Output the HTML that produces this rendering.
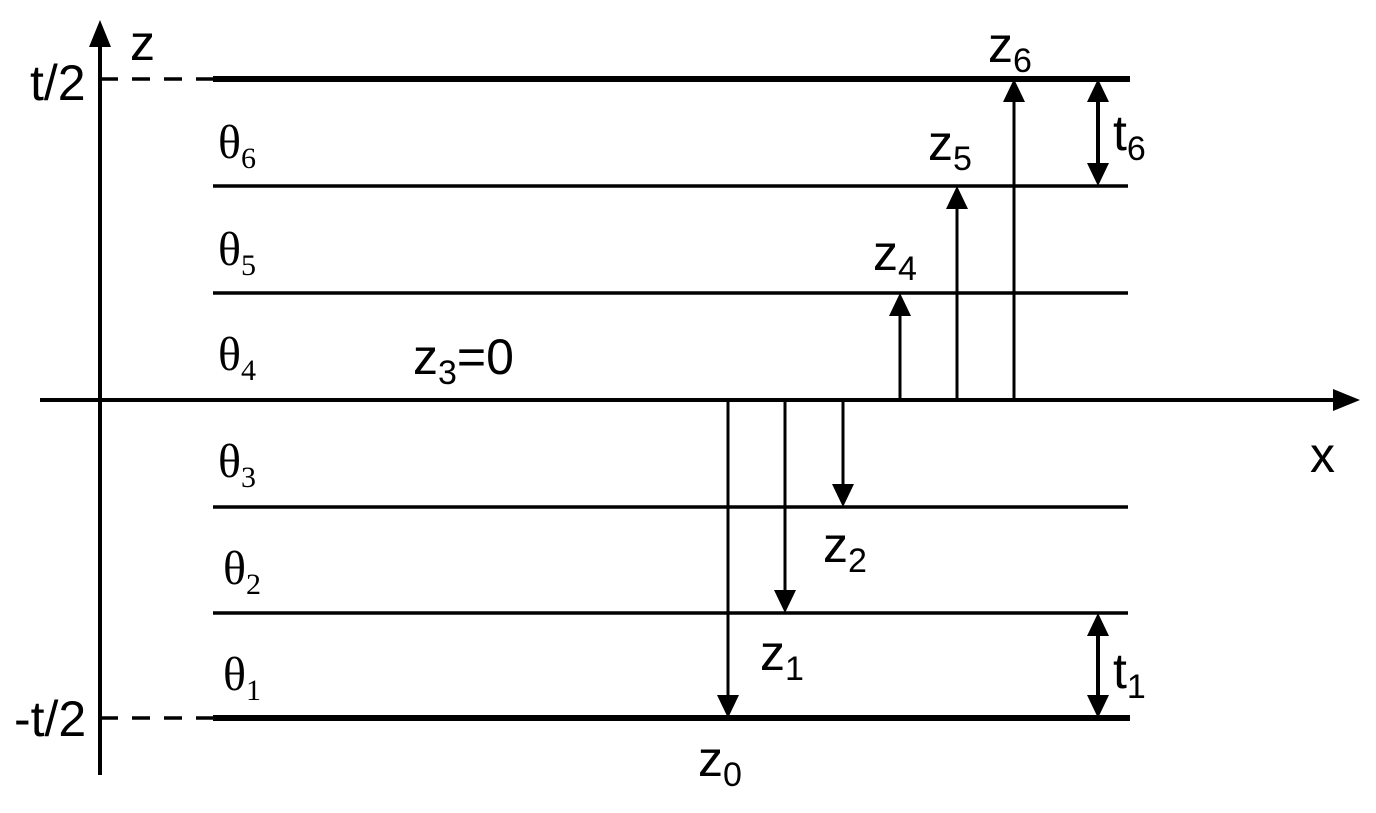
<!DOCTYPE html>
<html><head><meta charset="utf-8"><style>html,body{margin:0;padding:0;background:#fff}</style></head>
<body>
<svg width="1376" height="808" viewBox="0 0 1376 808" xmlns="http://www.w3.org/2000/svg">
<g stroke="#000" fill="none">
<line x1="100" y1="40" x2="100" y2="775" stroke-width="4"/>
<line x1="40" y1="400" x2="1340" y2="400" stroke-width="4"/>
<line x1="213" y1="79" x2="1130" y2="79" stroke-width="6"/>
<line x1="213" y1="718" x2="1130" y2="718" stroke-width="6"/>
<line x1="213" y1="186" x2="1128" y2="186" stroke-width="3.5"/>
<line x1="213" y1="293" x2="1128" y2="293" stroke-width="3.5"/>
<line x1="213" y1="507" x2="1128" y2="507" stroke-width="3.5"/>
<line x1="213" y1="613" x2="1128" y2="613" stroke-width="3.5"/>
<line x1="100" y1="79" x2="213" y2="79" stroke-width="3.5" stroke-dasharray="18,14"/>
<line x1="100" y1="718" x2="213" y2="718" stroke-width="3.5" stroke-dasharray="18,14"/>
<g stroke-width="3">
<line x1="728" y1="400" x2="728" y2="700"/>
<line x1="785" y1="400" x2="785" y2="595"/>
<line x1="843" y1="400" x2="843" y2="490"/>
<line x1="900" y1="400" x2="900" y2="312"/>
<line x1="957" y1="400" x2="957" y2="205"/>
<line x1="1014" y1="400" x2="1014" y2="98"/>
<line x1="1098" y1="95" x2="1098" y2="170" stroke-width="4"/>
<line x1="1098" y1="630" x2="1098" y2="702" stroke-width="4"/>
</g>
</g>
<g fill="#000">
<polygon points="100,20 89,47 111,47"/>
<polygon points="1360,400 1333,389 1333,411"/>
<polygon points="728,718 717,695 739,695"/>
<polygon points="785,613 774,590 796,590"/>
<polygon points="843,507 832,484 854,484"/>
<polygon points="900,293 889,316 911,316"/>
<polygon points="957,186 946,209 968,209"/>
<polygon points="1014,79 1003,102 1025,102"/>
<polygon points="1098,79 1087,102 1109,102"/>
<polygon points="1098,186 1087,163 1109,163"/>
<polygon points="1098,613 1087,636 1109,636"/>
<polygon points="1098,718 1087,695 1109,695"/>
</g>
<g font-family="Liberation Sans, sans-serif" font-size="50" fill="#000">
<text x="30" y="100">t/2</text>
<text x="14" y="736">-t/2</text>
<text x="130" y="60">z</text>
<text x="1310" y="472">x</text>
<text x="988" y="62">z<tspan font-size="34" dy="10">6</tspan></text>
<text x="928" y="160">z<tspan font-size="34" dy="10">5</tspan></text>
<text x="873" y="270">z<tspan font-size="34" dy="10">4</tspan></text>
<text x="413" y="374">z<tspan font-size="34" dy="10">3</tspan><tspan dy="-10">=0</tspan></text>
<text x="823" y="562">z<tspan font-size="34" dy="10">2</tspan></text>
<text x="760" y="670">z<tspan font-size="34" dy="10">1</tspan></text>
<text x="698" y="776">z<tspan font-size="34" dy="10">0</tspan></text>
<text x="1113" y="150">t<tspan font-size="34" dy="10">6</tspan></text>
<text x="1113" y="688">t<tspan font-size="34" dy="10">1</tspan></text>
</g>
<g font-family="Liberation Serif, serif" font-size="48" fill="#000">
<text x="218" y="158">θ<tspan font-size="30" dy="10">6</tspan></text>
<text x="218" y="265">θ<tspan font-size="30" dy="10">5</tspan></text>
<text x="218" y="370">θ<tspan font-size="30" dy="10">4</tspan></text>
<text x="218" y="477">θ<tspan font-size="30" dy="10">3</tspan></text>
<text x="223" y="584">θ<tspan font-size="30" dy="10">2</tspan></text>
<text x="223" y="690">θ<tspan font-size="30" dy="10">1</tspan></text>
</g>
</svg>
</body></html>
